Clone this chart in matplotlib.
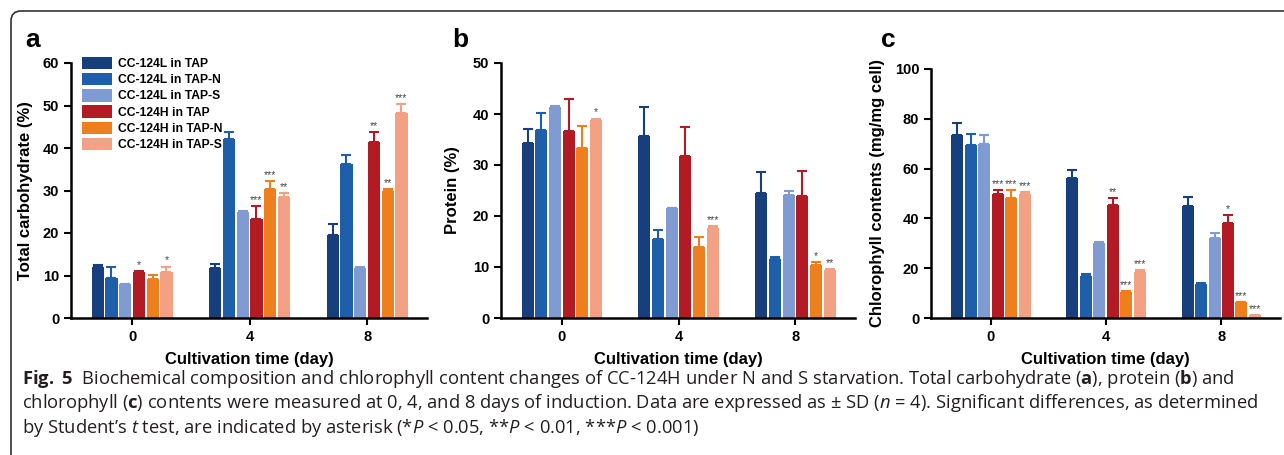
import numpy as np
import matplotlib
matplotlib.use("Agg")
from matplotlib import pyplot as plt
from matplotlib import font_manager
from matplotlib.patches import FancyBboxPatch

# ---- data ----
days = ['0', '4', '8']
series = ['CC-124L in TAP', 'CC-124L in TAP-N', 'CC-124L in TAP-S',
          'CC-124H in TAP', 'CC-124H in TAP-N', 'CC-124H in TAP-S']
colors = ['#163f7c', '#1f5ea8', '#7f9bd1', '#b21b24', '#ee7f1f', '#f3a184']

# total carbohydrate (%)
carb = [[11.9, 11.8, 19.5], [9.4, 42.2, 36.3], [8.0, 24.9, 11.7],
        [10.8, 23.4, 41.3], [9.2, 30.4, 30.0], [10.8, 28.5, 48.2]]
carb_sd = [[0.6, 1.0, 2.6], [2.5, 1.5, 2.0], [0.1, 0.3, 0.4],
           [0.3, 3.0, 2.5], [1.0, 1.8, 0.3], [1.3, 0.8, 2.1]]
carb_sig = [['', '', ''], ['', '', ''], ['', '', ''],
            ['*', '***', '**'], ['', '***', '**'], ['*', '**', '***']]

# protein (%)
prot = [[34.4, 35.6, 24.5], [36.9, 15.4, 11.6], [41.4, 21.5, 24.1],
        [36.7, 31.7, 23.9], [33.3, 14.0, 10.4], [38.8, 17.7, 9.5]]
prot_sd = [[2.7, 5.7, 4.1], [3.2, 1.8, 0.4], [0.1, 0.1, 0.8],
           [6.3, 5.7, 4.9], [4.3, 1.9, 0.6], [0.3, 0.4, 0.1]]
prot_sig = [['', '', ''], ['', '', ''], ['', '', ''],
            ['', '', ''], ['', '', '*'], ['*', '***', '**']]

# chlorophyll (mg/mg cell)
chl = [[73.5, 56.1, 45.1], [69.5, 17.0, 13.7], [69.9, 30.1, 32.0],
       [49.8, 45.5, 38.0], [48.3, 10.6, 6.3], [49.8, 18.5, 1.2]]
chl_sd = [[4.8, 3.3, 3.4], [4.4, 0.5, 0.2], [3.6, 0.6, 2.3],
          [1.6, 2.7, 3.2], [3.1, 0.2, 0.1], [0.7, 0.6, 0.1]]
chl_sig = [['', '', ''], ['', '', ''], ['', '', ''],
           ['***', '**', '*'], ['***', '***', '***'], ['***', '***', '***']]

# ---- fonts ----
names = {f.name for f in font_manager.fontManager.ttflist}
chart_font = 'Liberation Sans' if 'Liberation Sans' in names else 'DejaVu Sans'
cap_font = 'Liberation Sans Narrow' if 'Liberation Sans Narrow' in names else 'Open Sans'
plt.rcParams['font.family'] = [chart_font, 'DejaVu Sans']
plt.rcParams['mathtext.fontset'] = 'custom'
plt.rcParams['mathtext.rm'] = cap_font
plt.rcParams['mathtext.it'] = cap_font + ':italic'
plt.rcParams['mathtext.bf'] = cap_font + ':bold'

fig = plt.figure(figsize=(12.84, 4.55), dpi=100)
W, H = 1284, 455


def px_axes(left, right, top, bottom):
    return fig.add_axes([left / W, 1 - bottom / H, (right - left) / W, (bottom - top) / H])


def panel(ax, vals, sds, sigs, ymax, ystep, ylabel, ylab_x):
    x = np.arange(len(days))
    step = 0.117
    for i in range(len(series)):
        xs = x + (i - 2.5) * step
        ax.bar(xs, vals[i], width=0.104, color=colors[i], linewidth=0,
               label=series[i], zorder=2)
        ax.errorbar(xs, vals[i], yerr=[np.zeros(3), sds[i]], fmt='none',
                    ecolor=colors[i], elinewidth=1.5, capsize=3.5, capthick=1.5, zorder=3)
        for j in range(len(days)):
            if sigs[i][j]:
                ax.text(xs[j], vals[i][j] + sds[i][j] + ymax * 0.004, sigs[i][j],
                        ha='center', va='bottom', fontsize=7.5,
                        color='#444444')
    ax.set_xlim(-0.52, 2.51)
    ax.set_ylim(0, ymax)
    ax.set_yticks(np.arange(0, ymax + 1, ystep))
    ax.set_xticks(x)
    ax.set_xticklabels(days)
    for s in ['top', 'right']:
        ax.spines[s].set_visible(False)
    for s in ['left', 'bottom']:
        ax.spines[s].set_linewidth(1.8)
    ax.tick_params(width=1.5, length=5, labelsize=10.5)
    for lab in ax.get_xticklabels() + ax.get_yticklabels():
        lab.set_fontweight('bold')
    ax.set_xlabel('Cultivation time (day)', fontsize=12, fontweight='bold')
    ax.xaxis.set_label_coords(0.5, -0.135)
    ax.set_ylabel(ylabel, fontsize=12, fontweight='bold')
    ax.yaxis.set_label_coords(ylab_x, 0.5)


ax1 = px_axes(71, 427, 63, 318)
panel(ax1, carb, carb_sd, carb_sig, 60, 10, 'Total carbohydrate (%)', -0.107)
leg = ax1.legend(loc='upper left', bbox_to_anchor=(0.03, 1.025), frameon=False,
                 handlelength=2.5, handleheight=1.2, labelspacing=0.25,
                 handletextpad=0.5, borderaxespad=0, borderpad=0,
                 prop={'size': 8.7, 'weight': 'bold'})

ax2 = px_axes(501, 855, 63, 318)
panel(ax2, prot, prot_sd, prot_sig, 50, 10, 'Protein (%)', -0.116)

ax3 = px_axes(931, 1280, 69, 318)
panel(ax3, chl, chl_sd, chl_sig, 100, 20, 'Chlorophyll contents (mg/mg cell)', -0.132)

for lbl, px in zip(['a', 'b', 'c'], [33, 460, 888]):
    fig.text(px / W, 1 - 40 / H, lbl, fontsize=19, fontweight='bold',
             ha='center', va='center')

# caption
cap = [r"$\mathbf{Fig.\ 5}$  Biochemical composition and chlorophyll content changes of CC-124H under N and S starvation. "
       r"Total carbohydrate ($\mathbf{a}$), protein ($\mathbf{b}$) and",
       r"chlorophyll ($\mathbf{c}$) contents were measured at 0, 4, and 8 days of induction. Data are expressed as ± SD ($n$ = 4). "
       r"Significant differences, as determined",
       r"by Student’s $t$ test, are indicated by asterisk (*$P$ < 0.05, **$P$ < 0.01, ***$P$ < 0.001)"]
for k, line in enumerate(cap):
    fig.text(22 / W, 1 - (379 + 24.5 * k) / H, line, fontsize=13.2,
             family=cap_font, ha='left', va='center', color='#231f20')

# rounded frame around the figure (cut at right/bottom edge)
frame = FancyBboxPatch((11, -30), 1320, H - 11 + 30, boxstyle='round,pad=0,rounding_size=10',
                       transform=None, fill=False, ec='#333333', lw=1.2)
fig.add_artist(frame)

plt.savefig('out.png', dpi=100)
